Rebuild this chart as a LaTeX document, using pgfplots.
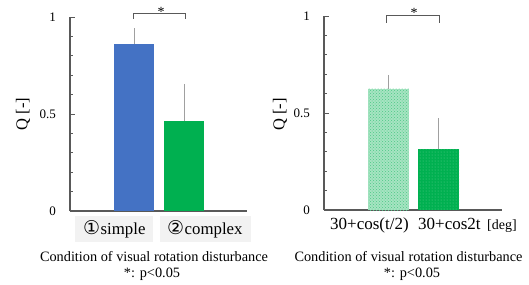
\documentclass[border=0pt]{standalone}
\usepackage{fontspec}
\setmainfont{Liberation Serif}
\newfontfamily\dejavu{DejaVu Sans}
\usepackage{pgfplots}
\pgfplotsset{compat=1.18}
\usetikzlibrary{patterns}
\definecolor{cblue}{HTML}{4472C4}
\definecolor{cgreen}{HTML}{00B050}
\definecolor{clight}{HTML}{A6E4C2}
\definecolor{cdot}{HTML}{4CC985}
\definecolor{cdot2}{HTML}{5FD08F}
\definecolor{caxis}{HTML}{595959}
\definecolor{cerr}{HTML}{A0A0A0}
\definecolor{cbox}{HTML}{F2F2F2}
\pgfplotsset{
  myax/.style={
    scale only axis, anchor=south west,
    ymin=0, ymax=1, ytick={0,0.5,1}, yticklabels={0,0.5,1},
    minor ytick={0.1,0.2,0.3,0.4,0.6,0.7,0.8,0.9},
    axis x line*=bottom, axis y line*=left,
    axis line style={caxis, line width=1.2pt, -},
    tick align=inside,
    xtick=\empty,
    major tick length=5pt, minor tick length=3pt,
    every tick/.style={caxis, line width=0.8pt},
    yticklabel style={font=\fontsize{13}{15}\selectfont, xshift=-10.5pt},
    /pgf/number format/assume math mode=true,
    clip=false,
    ybar, bar width=40pt,
    error bars/error bar style={cerr, line width=1pt},
  }
}
\begin{document}
\begin{tikzpicture}
\useasboundingbox (0pt,0pt) rectangle (529pt,284pt);
% left chart
\begin{axis}[myax, at={(70pt,73pt)}, width=177pt, height=194pt, xmin=-0.28, xmax=3.26]
\addplot[bar shift=0pt, fill=cblue, draw=none,
  error bars/.cd, y dir=plus, y explicit, error mark=none]
  coordinates {(1,0.861) +- (0,0.082)};
\addplot[bar shift=0pt, fill=cgreen, draw=none,
  error bars/.cd, y dir=plus, y explicit, error mark=none]
  coordinates {(2,0.464) +- (0,0.191)};
\end{axis}
% right chart
\begin{axis}[myax, at={(324pt,74pt)}, width=178pt, height=194pt, xmin=-0.29, xmax=3.27, bar width=41pt]
\addplot[bar shift=0pt, fill=clight, draw=none,
  postaction={pattern=crosshatch dots, pattern color=cdot},
  error bars/.cd, y dir=plus, y explicit, error mark=none]
  coordinates {(1,0.624) +- (0,0.072)};
\addplot[bar shift=0pt, fill=cgreen, draw=none,
  postaction={pattern=dots, pattern color=cdot2},
  error bars/.cd, y dir=plus, y explicit, error mark=none]
  coordinates {(2,0.314) +- (0,0.160)};
\end{axis}
% y labels
\node[rotate=90, font=\fontsize{16.5}{18}\selectfont] at (23pt,170pt) {Q [-]};
\node[rotate=90, font=\fontsize{16.5}{18}\selectfont] at (280pt,169.5pt) {Q [-]};
% category labels left
\fill[cbox] (75pt,42pt) rectangle (153pt,68pt);
\fill[cbox] (160pt,42pt) rectangle (251pt,68pt);
\node[anchor=base west, font=\fontsize{16.8}{19}\selectfont, inner sep=0pt] at (83pt,50pt) {\makebox[17.5pt][l]{\dejavu\fontsize{19}{21}\selectfont ①}simple};
\node[anchor=base west, font=\fontsize{16.8}{19}\selectfont, inner sep=0pt] at (167pt,50pt) {\makebox[17.5pt][l]{\dejavu\fontsize{19}{21}\selectfont ②}complex};
% category labels right
\node[anchor=base west, font=\fontsize{17}{19}\selectfont, inner sep=0pt] at (330pt,55pt) {30+cos(t/2)};
\node[anchor=base west, font=\fontsize{17}{19}\selectfont, inner sep=0pt] at (418pt,55pt) {30+cos2t};
\node[anchor=base west, font=\fontsize{14}{16}\selectfont, inner sep=0pt] at (487pt,55pt) {[deg]};
% x labels
\node[anchor=base, font=\fontsize{14.3}{16}\selectfont, inner sep=0pt] at (154pt,22.5pt) {Condition of visual rotation disturbance};
\node[anchor=base, font=\fontsize{14.3}{16}\selectfont, inner sep=0pt] at (152pt,7pt) {*: p<0.05};
\node[anchor=base, font=\fontsize{14.3}{16}\selectfont, inner sep=0pt] at (408.5pt,22.3pt) {Condition of visual rotation disturbance};
\node[anchor=base, font=\fontsize{14.3}{16}\selectfont, inner sep=0pt] at (412pt,7pt) {*: p<0.05};
% significance brackets
\draw[caxis, line width=1pt] (133pt,265pt) -- (133pt,270pt) -- (185pt,270pt) -- (185pt,265pt);
\node[anchor=base, font=\fontsize{14}{16}\selectfont, inner sep=0pt] at (161pt,267pt) {*};
\draw[caxis, line width=1pt] (386pt,261pt) -- (386pt,268pt) -- (439pt,268pt) -- (439pt,261pt);
\node[anchor=base, font=\fontsize{14}{16}\selectfont, inner sep=0pt] at (414pt,266.5pt) {*};
\end{tikzpicture}
\end{document}
